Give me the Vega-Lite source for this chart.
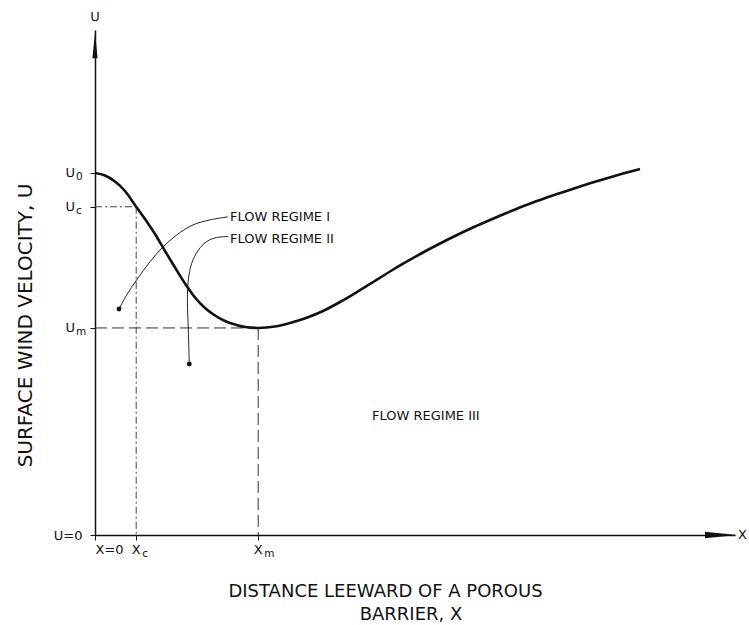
{
  "$schema": "https://vega.github.io/schema/vega-lite/v6.json",
  "width": 640,
  "height": 505,
  "autosize": {"type": "none"},
  "padding": {"left": 95, "top": 30, "right": 14, "bottom": 90},
  "background": "white",
  "config": {
    "view": {"stroke": null},
    "axis": {"grid": false},
    "text": {"font": "DejaVu Sans", "color": "#111"}
  },
  "datasets": {
    "curve": [
      {"x": 0, "u": 7.168}, {"x": 0.25, "u": 7.119}, {"x": 0.5, "u": 7.0}, {"x": 0.75, "u": 6.812},
      {"x": 1.03, "u": 6.5}, {"x": 1.25, "u": 6.257}, {"x": 1.5, "u": 5.96}, {"x": 1.75, "u": 5.624},
      {"x": 2.0, "u": 5.297}, {"x": 2.25, "u": 4.98}, {"x": 2.5, "u": 4.703}, {"x": 2.75, "u": 4.495},
      {"x": 3.0, "u": 4.347}, {"x": 3.25, "u": 4.238}, {"x": 3.5, "u": 4.168}, {"x": 3.75, "u": 4.119},
      {"x": 4.08, "u": 4.1}, {"x": 4.5, "u": 4.129}, {"x": 4.875, "u": 4.198}, {"x": 5.275, "u": 4.297},
      {"x": 5.7, "u": 4.436}, {"x": 6.125, "u": 4.614}, {"x": 6.55, "u": 4.812}, {"x": 6.975, "u": 5.02},
      {"x": 7.375, "u": 5.218}, {"x": 7.8, "u": 5.416}, {"x": 8.2, "u": 5.594}, {"x": 8.625, "u": 5.772},
      {"x": 9.05, "u": 5.941}, {"x": 9.475, "u": 6.099}, {"x": 9.875, "u": 6.238}, {"x": 10.3, "u": 6.38},
      {"x": 10.7, "u": 6.509}, {"x": 11.125, "u": 6.634}, {"x": 11.55, "u": 6.752}, {"x": 11.975, "u": 6.863},
      {"x": 12.375, "u": 6.964}, {"x": 12.8, "u": 7.065}, {"x": 13.2, "u": 7.156}, {"x": 13.625, "u": 7.248}
    ],
    "guides": [
      {"kind": "c", "x": 0, "x2": 1.03, "u": 6.5, "u2": 6.5},
      {"kind": "c", "x": 1.03, "x2": 1.03, "u": 6.5, "u2": 0},
      {"kind": "m", "x": 0, "x2": 4.08, "u": 4.1, "u2": 4.1},
      {"kind": "m", "x": 4.08, "x2": 4.08, "u": 4.1, "u2": 0}
    ],
    "leaders": [
      {"id": "I", "i": 0, "x": 0.6, "u": 4.475}, {"id": "I", "i": 1, "x": 0.79, "u": 4.75},
      {"id": "I", "i": 2, "x": 1.04, "u": 5.05}, {"id": "I", "i": 3, "x": 1.375, "u": 5.41},
      {"id": "I", "i": 4, "x": 1.67, "u": 5.68}, {"id": "I", "i": 5, "x": 2.04, "u": 5.94},
      {"id": "I", "i": 6, "x": 2.45, "u": 6.14}, {"id": "I", "i": 7, "x": 2.875, "u": 6.24},
      {"id": "I", "i": 8, "x": 3.325, "u": 6.3},
      {"id": "II", "i": 0, "x": 2.357, "u": 3.386}, {"id": "II", "i": 1, "x": 2.333, "u": 4.06},
      {"id": "II", "i": 2, "x": 2.31, "u": 4.65}, {"id": "II", "i": 3, "x": 2.333, "u": 5.05},
      {"id": "II", "i": 4, "x": 2.417, "u": 5.38}, {"id": "II", "i": 5, "x": 2.583, "u": 5.64},
      {"id": "II", "i": 6, "x": 2.79, "u": 5.81}, {"id": "II", "i": 7, "x": 3.04, "u": 5.89},
      {"id": "II", "i": 8, "x": 3.33, "u": 5.91}
    ],
    "notes": [
      {"x": 3.375, "u": 6.3, "label": "FLOW REGIME I"},
      {"x": 3.375, "u": 5.86, "label": "FLOW REGIME II"},
      {"x": 6.925, "u": 2.36, "label": "FLOW REGIME III"}
    ],
    "ylabels": [
      {"x": 0, "u": 7.168, "sub": "0"},
      {"x": 0, "u": 6.5, "sub": "c"},
      {"x": 0, "u": 4.1, "sub": "m"}
    ],
    "xlabels": [
      {"x": 1.03, "u": 0, "sub": "c"},
      {"x": 4.08, "u": 0, "sub": "m"}
    ]
  },
  "encoding": {
    "x": {
      "field": "x", "type": "quantitative",
      "scale": {"domain": [0, 16], "nice": false, "zero": false},
      "axis": {
        "values": [0, 1.03, 4.08],
        "labelExpr": "datum.value === 0 ? 'X=0' : ''",
        "labelFont": "DejaVu Sans", "labelFontSize": 13, "labelColor": "#111", "labelPadding": 3,
        "tickSize": 5, "tickColor": "#111", "tickWidth": 1,
        "domainColor": "#111", "domainWidth": 1.5,
        "title": "DISTANCE LEEWARD OF A POROUS",
        "titleFont": "DejaVu Sans", "titleFontSize": 18, "titleFontWeight": "normal", "titleColor": "#111",
        "titleX": 290, "titleY": 56, "titleAlign": "center", "titleBaseline": "middle"
      }
    },
    "y": {
      "field": "u", "type": "quantitative",
      "scale": {"domain": [0, 10], "nice": false, "zero": false},
      "axis": {
        "values": [0, 4.1, 6.5, 7.168],
        "labelExpr": "datum.value === 0 ? 'U=0' : ''",
        "labelFont": "DejaVu Sans", "labelFontSize": 13, "labelColor": "#111", "labelPadding": 8,
        "tickSize": 5, "tickColor": "#111", "tickWidth": 1,
        "domainColor": "#111", "domainWidth": 1.5,
        "title": "SURFACE WIND VELOCITY, U",
        "titleFont": "DejaVu Sans", "titleFontSize": 20, "titleFontWeight": "normal", "titleColor": "#111",
        "titleX": -70, "titleY": 295, "titleAngle": 270, "titleAlign": "center", "titleBaseline": "middle"
      }
    }
  },
  "layer": [
    {
      "data": {"name": "guides"},
      "transform": [{"filter": "datum.kind === 'c'"}],
      "mark": {"type": "rule", "color": "#444", "strokeWidth": 1, "strokeDash": [7, 3, 2, 3]},
      "encoding": {"x2": {"field": "x2"}, "y2": {"field": "u2"}}
    },
    {
      "data": {"name": "guides"},
      "transform": [{"filter": "datum.kind === 'm'"}],
      "mark": {"type": "rule", "color": "#333", "strokeWidth": 1, "strokeDash": [12, 5]},
      "encoding": {"x2": {"field": "x2"}, "y2": {"field": "u2"}}
    },
    {
      "data": {"name": "leaders"},
      "mark": {"type": "line", "color": "#222", "strokeWidth": 1, "interpolate": "catmull-rom"},
      "encoding": {"detail": {"field": "id"}, "order": {"field": "i", "type": "quantitative"}}
    },
    {
      "data": {"name": "leaders"},
      "transform": [{"filter": "datum.i === 0"}],
      "mark": {"type": "point", "filled": true, "color": "#111", "size": 24, "opacity": 1},
      "encoding": {}
    },
    {
      "data": {"name": "curve"},
      "mark": {"type": "line", "color": "#111", "strokeWidth": 2.6, "interpolate": "monotone"},
      "encoding": {}
    },
    {
      "data": {"name": "notes"},
      "mark": {"type": "text", "align": "left", "baseline": "middle", "fontSize": 13},
      "encoding": {"text": {"field": "label"}}
    },
    {
      "data": {"name": "ylabels"},
      "mark": {"type": "text", "align": "right", "baseline": "middle", "fontSize": 13, "dx": -20},
      "encoding": {"text": {"value": "U"}}
    },
    {
      "data": {"name": "ylabels"},
      "mark": {"type": "text", "align": "left", "baseline": "middle", "fontSize": 10.5, "dx": -19, "dy": 4},
      "encoding": {"text": {"field": "sub"}}
    },
    {
      "data": {"name": "xlabels"},
      "mark": {"type": "text", "align": "center", "baseline": "middle", "fontSize": 13, "dy": 15},
      "encoding": {"text": {"value": "X"}}
    },
    {
      "data": {"name": "xlabels"},
      "mark": {"type": "text", "align": "left", "baseline": "middle", "fontSize": 10.5, "dx": 6, "dy": 19},
      "encoding": {"text": {"field": "sub"}}
    },
    {
      "data": {"values": [{"x": 0, "u": 9.7}]},
      "mark": {"type": "point", "filled": true, "color": "#111", "opacity": 1, "size": 676,
               "shape": "M0,-1L0.2,1L-0.2,1Z"},
      "encoding": {}
    },
    {
      "data": {"values": [{"x": 15.65, "u": 0}]},
      "mark": {"type": "point", "filled": true, "color": "#111", "opacity": 1, "size": 1024,
               "shape": "M1,0L-1,-0.2L-1,0.2Z"},
      "encoding": {}
    },
    {
      "data": {"values": [{"x": 0, "u": 10}]},
      "mark": {"type": "text", "align": "center", "baseline": "middle", "fontSize": 13, "dy": -13},
      "encoding": {"text": {"value": "U"}}
    },
    {
      "data": {"values": [{"x": 16, "u": 0}]},
      "mark": {"type": "text", "align": "left", "baseline": "middle", "fontSize": 13, "dx": 3},
      "encoding": {"text": {"value": "X"}}
    },
    {
      "data": {"values": [{"x": 7.9, "u": -1.58}]},
      "mark": {"type": "text", "align": "center", "baseline": "middle", "fontSize": 18},
      "encoding": {"text": {"value": "BARRIER, X"}}
    }
  ]
}
